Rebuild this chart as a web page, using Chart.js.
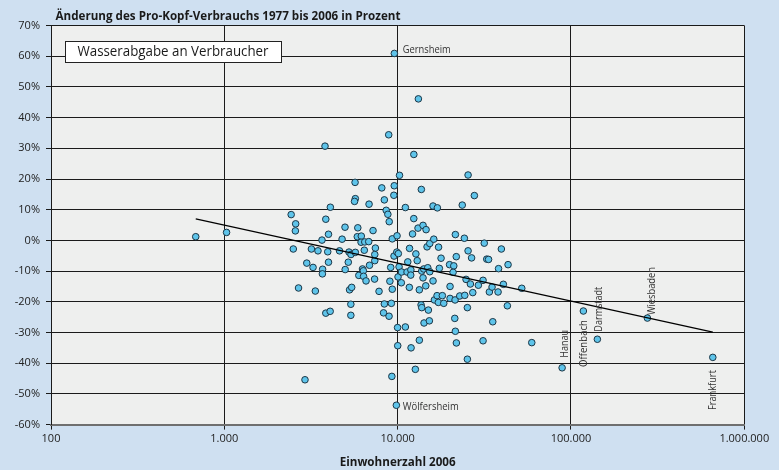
<!DOCTYPE html>
<html>
<head>
<meta charset="utf-8">
<script src="https://cdn.jsdelivr.net/npm/chart.js@4.4.0/dist/chart.umd.min.js"></script>
<style>
html, body { margin: 0; padding: 0; background: #cfe0f1; }
#wrap { width: 779px; height: 470px; }
</style>
</head>
<body>
<div id="wrap"><canvas id="chart" width="779" height="470"></canvas></div>
<script>
// Einwohnerzahl 2006 / Aenderung Pro-Kopf-Verbrauch 1977-2006 (%)
var pop = [
  684, 1030, 2430, 2580, 2570, 2500, 2680, 2920, 2990, 3250,
  3180, 3470, 3690, 3680, 3660, 3350, 3810, 3850, 3990, 3990,
  3950, 4090, 3850, 4080, 4620, 4780, 4970, 4980, 5190, 5240,
  5380, 5700, 5280, 5430, 5370, 5370, 5680, 5700, 5640, 5890,
  5850, 6170, 6150, 6460, 6810, 6420, 5970, 6270, 6340, 6360,
  6570, 6880, 6840, 7210, 7360, 7380, 7440, 7380, 7810, 8100,
  8380, 8380, 8290, 8590, 8780, 8940, 8880, 9020, 9200, 8920,
  9120, 9310, 9260, 9310, 9560, 9510, 9530, 9920, 9890, 10090,
  9990, 10010, 10050, 10250, 10190, 10530, 10500, 11080, 11080, 11330,
  11440, 11710, 11680, 11920, 11900, 11950, 12190, 12390, 12400, 12650,
  12740, 12970, 13170, 13110, 13340, 13340, 13700, 13650, 13770, 13770,
  14010, 14140, 14010, 14200, 14530, 14590, 14780, 14920, 15040, 15320,
  15320, 15240, 16000, 16000, 16160, 16290, 16880, 16950, 17170, 17220,
  17400, 17800, 18110, 18450, 19930, 20060, 20060, 21080, 20880, 21360,
  21440, 21530, 21530, 21790, 21820, 22820, 23590, 24260, 24390, 24810,
  25250, 25250, 25490, 25490, 26280, 26700, 27130, 27710, 29220, 31100,
  31100, 31600, 32670, 33460, 33820, 35050, 35380, 37960, 38210, 39660,
  40730, 42950, 43350, 52010, 59400
];
var change = [
  1.2, 2.6, 8.4, 5.4, 3.1, -2.8, -15.5, -45.4, -7.4, -8.8,
  -2.8, -3.4, -9.4, -10.9, 0.1, -16.5, 30.7, 6.9, -7.1, 2.0,
  -3.7, 10.8, -23.7, -23.1, -3.4, 0.4, 4.3, -9.5, -7.1, -3.8,
  -4.6, -3.9, -16.1, -15.3, -20.8, -24.4, 18.9, 13.6, 12.7, 4.1,
  1.2, 1.4, -0.6, -0.5, -0.4, -3.2, -11.4, -9.3, -9.9, -11.7,
  -13.2, -8.1, 11.8, 3.2, -12.6, -6.6, -2.5, -4.6, -16.6, 17.1,
  13.2, -20.7, -23.6, 9.8, 8.5, 6.1, 34.4, -13.3, -20.5, -24.7,
  -8.8, -15.9, -44.3, 0.5, 17.8, 14.7, -5.1, 1.5, -3.8, -4.3,
  -28.4, -34.3, -11.9, 21.2, -8.6, -10.3, -13.8, 10.7, -28.2, -10.3,
  -7.0, -2.6, -15.3, -9.6, -11.3, -35.0, 2.1, 7.1, 28.0, -42.0,
  -4.4, -6.6, 46.1, 4.0, -16.1, -32.5, 16.6, -21.0, -21.9, -10.0,
  4.9, -9.3, -12.2, -26.9, -14.8, 3.5, -2.1, -8.9, -22.7, -1.0,
  -10.2, -26.2, 11.2, -13.2, 0.4, -19.4, -18.0, 10.6, -20.2, -2.2,
  -9.1, -5.8, -18.0, -20.5, -7.9, -15.0, -18.9, -8.3, -10.4, -25.4,
  -19.4, 1.9, -29.6, -5.3, -33.4, -18.1, 11.5, 0.7, -17.9, -12.7,
  -21.9, -38.7, 21.3, -3.4, -14.2, -5.7, -17.0, 14.6, -14.6, -13.0,
  -32.7, -0.9, -6.1, -6.2, -16.8, -15.2, -26.5, -16.8, -9.2, -2.8,
  -14.3, -21.3, -7.9, -15.6, -33.3
];

// beschriftete Gemeinden
var cityNames  = ["Gernsheim", "Wölfersheim", "Hanau", "Offenbach", "Darmstadt", "Wiesbaden", "Frankfurt"];
var cityPop    = [9570, 9830, 88900, 117900, 142000, 276000, 658000];
var cityChange = [60.9, -53.7, -41.5, -23.0, -32.2, -25.3, -38.1];

// Trendlinie (logarithmisch)
var trendPop    = [684, 658000];
var trendChange = [7.0, -29.9];

var xTicks = [100, 1000, 10000, 100000, 1000000];
var yMin = -60, yMax = 70, yStep = 10;

var titleText  = "Änderung des Pro-Kopf-Verbrauchs 1977 bis 2006 in Prozent";
var xTitleText = "Einwohnerzahl 2006";
var boxText    = "Wasserabgabe an Verbraucher";

function toPoints(xs, ys) {
  return xs.map(function (v, i) { return { x: v, y: ys[i] }; });
}
function fmtDE(v) {
  return String(v).replace(/\B(?=(\d{3})+(?!\d))/g, ".");
}
// text squeezed to a width if needed
function fitText(ctx, txt, x, y, w) {
  var m = ctx.measureText(txt).width;
  ctx.save();
  ctx.translate(x, y);
  if (m > w) ctx.scale(w / m, 1);
  ctx.fillText(txt, 0, 0);
  ctx.restore();
}

// label placement per city: right of point, or rotated above/below
var labelStyle = [
  { mode: "right", dx: 8.4, dy: -3.6, w: 48 },
  { mode: "right", dx: 6.4, dy: 1.7,  w: 56 },
  { mode: "up",    dx: 3.5, dy: -10,  w: 28 },
  { mode: "down",  dx: 0.5, dy: 9,    w: 47 },
  { mode: "up",    dx: 1.7, dy: -7.6, w: 45 },
  { mode: "up",    dx: 4.7, dy: -3,   w: 48 },
  { mode: "down",  dx: 0.3, dy: 12.7, w: 40 }
];

var fontFam = "'Open Sans', 'DejaVu Sans', sans-serif";

var plotBg = {
  id: "plotBg",
  beforeDraw: function (chart) {
    var a = chart.chartArea, ctx = chart.ctx;
    ctx.save();
    ctx.fillStyle = "#eeefee";
    ctx.fillRect(a.left, a.top, a.right - a.left, a.bottom - a.top);
    ctx.restore();
  }
};

var texts = {
  id: "texts",
  afterDraw: function (chart) {
    var ctx = chart.ctx, a = chart.chartArea;
    ctx.save();
    ctx.fillStyle = "#1a1a1a";
    ctx.textBaseline = "alphabetic";
    ctx.textAlign = "left";
    ctx.font = "bold 12.5px " + fontFam;
    fitText(ctx, titleText, 55.5, 20, 345);

    ctx.textAlign = "center";
    ctx.font = "bold 12.5px " + fontFam;
    fitText(ctx, xTitleText, (a.left + a.right) / 2, 466, 116);

    // box
    ctx.fillStyle = "#ffffff";
    ctx.fillRect(65.5, 41, 216, 21.5);
    ctx.strokeStyle = "#222";
    ctx.lineWidth = 1;
    ctx.strokeRect(65.5, 41.5, 216, 21);
    ctx.fillStyle = "#1a1a1a";
    ctx.textAlign = "left";
    ctx.textBaseline = "middle";
    ctx.font = "14px " + fontFam;
    fitText(ctx, boxText, 77.5, 52, 191);

    // city labels
    var meta = chart.getDatasetMeta(2);
    ctx.fillStyle = "#333";
    ctx.font = "10px " + fontFam;
    meta.data.forEach(function (el, i) {
      var s = labelStyle[i];
      var px = el.x + s.dx, py = el.y + s.dy;
      if (s.mode === "right") {
        ctx.textAlign = "left";
        ctx.textBaseline = "middle";
        fitText(ctx, cityNames[i], px, py, s.w);
      } else {
        ctx.save();
        ctx.translate(px, py);
        ctx.rotate(-Math.PI / 2);
        ctx.textBaseline = "middle";
        ctx.textAlign = s.mode === "up" ? "left" : "right";
        fitText(ctx, cityNames[i], 0, 0, s.w);
        ctx.restore();
      }
    });
    ctx.restore();
  }
};

var pointStyle = {
  pointRadius: 3.3,
  pointBorderWidth: 1,
  pointBackgroundColor: "#5ec4ea",
  pointBorderColor: "#1c3646",
  showLine: false
};

new Chart(document.getElementById("chart"), {
  type: "scatter",
  data: {
    datasets: [
      {
        label: "Trend",
        data: toPoints(trendPop, trendChange),
        showLine: true,
        borderColor: "#000",
        borderWidth: 1.2,
        pointRadius: 0,
        fill: false
      },
      Object.assign({ label: "Gemeinden", data: toPoints(pop, change) }, pointStyle),
      Object.assign({ label: "Städte", data: toPoints(cityPop, cityChange) }, pointStyle)
    ]
  },
  options: {
    responsive: false,
    devicePixelRatio: 1,
    animation: false,
    layout: { padding: { top: 25.5, right: 34.7, left: 0, bottom: 0 } },
    plugins: { legend: { display: false }, tooltip: { enabled: false } },
    scales: {
      x: {
        type: "logarithmic",
        min: 100,
        max: 1000000,
        afterFit: function (s) { s.height = 45.4; },
        afterBuildTicks: function (s) { s.ticks = xTicks.map(function (v) { return { value: v }; }); },
        grid: { color: "#1a1a1a", lineWidth: 1, tickLength: 5 },
        border: { color: "#6f6f6f", width: 2 },
        ticks: {
          color: "#222",
          padding: 3,
          maxRotation: 0,
          font: { family: fontFam, size: 11 },
          callback: function (v) { return fmtDE(v); }
        }
      },
      y: {
        min: yMin,
        max: yMax,
        afterFit: function (s) { s.width = 51; },
        grid: { color: "#1a1a1a", lineWidth: 1, tickLength: 5 },
        border: { color: "#1a1a1a", width: 1 },
        ticks: {
          stepSize: yStep,
          color: "#222",
          padding: 6,
          font: { family: fontFam, size: 11 },
          callback: function (v) { return v + "%"; }
        }
      }
    }
  },
  plugins: [plotBg, texts]
});
</script>
</body>
</html>
